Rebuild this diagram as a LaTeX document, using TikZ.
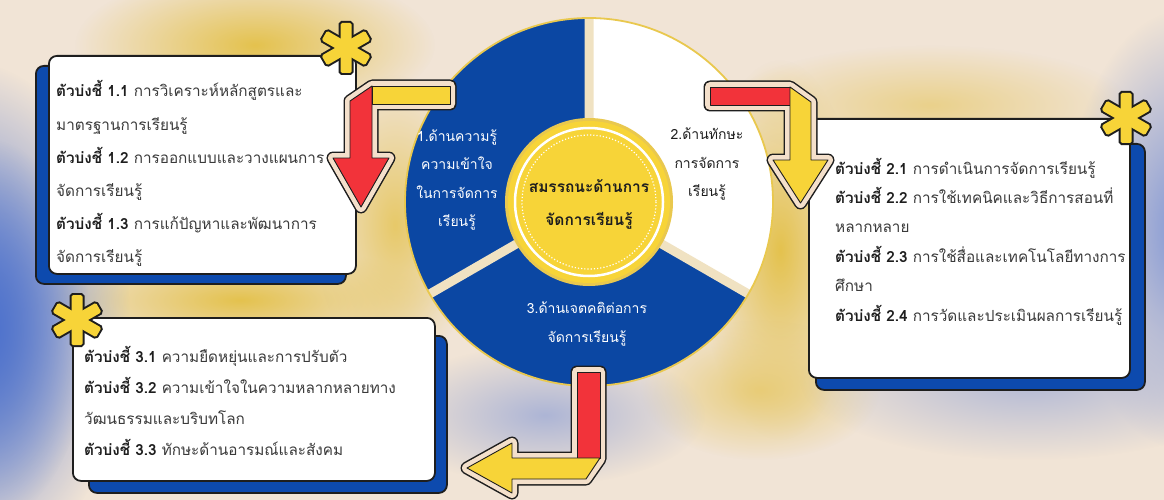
\documentclass[tikz,border=0pt]{standalone}
\usepackage{fontspec}
\setmainfont[Script=Thai]{Loma}
\usetikzlibrary{fadings}
\definecolor{bgc}{HTML}{F1E4D6}
\definecolor{wblue}{HTML}{0B47A3}
\definecolor{sblue}{HTML}{0D4AAE}
\definecolor{cyel}{HTML}{F7D438}
\definecolor{ared}{HTML}{F2333A}
\definecolor{acream}{HTML}{F4E0CB}
\definecolor{adark}{HTML}{1E1E1E}
\definecolor{gapc}{HTML}{F0E2C2}
\definecolor{ringc}{HTML}{E9C84E}
\definecolor{txt}{HTML}{3A3A3A}
\definecolor{gblue}{HTML}{4E72CC}
\definecolor{gblue2}{HTML}{7F95D5}
\definecolor{gyel}{HTML}{E4C24E}
\tikzfading[name=glow, inner color=transparent!0, outer color=transparent!100]
\tikzset{
  glowfill/.style={fill=#1, path fading=glow},
  wbox/.style={draw=adark, line width=1.8, fill=white, rounded corners=8, inner sep=0pt},
  shbox/.style={draw=adark, line width=1.8, fill=sblue, rounded corners=8, inner sep=0pt},
  boxtext/.style={anchor=base west, inner sep=0pt, text width=340pt, align=left, text=txt},
  seglbl/.style={align=center, inner sep=0pt, font=\fontsize{14}{28.5}\selectfont},
  arrowout/.style={draw=adark, line width=13, line join=round},
  arrowin/.style={draw=acream, line width=10, line join=round},
  arrowpart/.style={fill=#1, draw=adark, line width=0.9, line join=round},
  astout/.style={draw=adark, line width=4, rounded corners=1.5},
  astin/.style={fill=cyel, rounded corners=1.5},
}
\newcommand\myast[1]{%
  \begin{scope}[shift={#1}]
    \foreach \a in {0,60,120} {\draw[astout, rotate=\a] (-5.5,-25) -- (5.5,-25) -- (5.5,25) -- (-5.5,25) -- cycle;}
    \foreach \a in {0,60,120} {\fill[astin, rotate=\a] (-5.5,-25) -- (5.5,-25) -- (5.5,25) -- (-5.5,25) -- cycle;}
  \end{scope}}
\begin{document}
\begin{tikzpicture}[x=1pt,y=-1pt]
\useasboundingbox (0,0) rectangle (1164,500);
\fill[bgc] (0,0) rectangle (1164,500);
% glows
\fill[glowfill=gyel] (255,45) ellipse (180 and 75);
\fill[glowfill=gyel] (240,300) ellipse (200 and 55);
\fill[glowfill=gyel!80!bgc] (395,225) ellipse (80 and 150);
\fill[glowfill=gyel] (780,250) ellipse (80 and 190);
\fill[glowfill=gyel!70!bgc] (760,390) ellipse (120 and 70);
\fill[glowfill=gyel!55!bgc] (930,105) ellipse (200 and 60);
\fill[glowfill=gblue] (-40,320) ellipse (170 and 260);
\fill[glowfill=gblue] (-10,330) ellipse (100 and 190);
\fill[glowfill=gblue2] (1185,230) ellipse (120 and 220);
\fill[glowfill=gblue2!60!bgc] (545,415) ellipse (160 and 70);
\fill[glowfill=gblue2!55!bgc] (1030,380) ellipse (230 and 80);

% wheel
\coordinate (W) at (589,202);
\fill[wblue] (W) circle (184);
\fill[white] (W) -- ++(-90:184) arc[start angle=-90, end angle=30, radius=184] -- cycle;
\draw[gapc, line width=9] (W) -- ++(-90:184) (W) -- ++(30:184) (W) -- ++(150:184);
\draw[ringc, line width=1.8] (W) circle (184);
\fill[ringc] (W) circle (84);
\fill[cyel] (W) circle (81);
\draw[white, line width=2.5] (W) circle (74);
\draw[white, line width=1.2, dotted] (W) circle (67);
\node[align=center, inner sep=0pt, font=\fontsize{15.5}{33}\selectfont\bfseries, text=adark] (core) at (589,204) {สมรรถนะด้านการ\\จัดการเรียนรู้};
\node[seglbl, text=white] (s1) at (457,180) {1.ด้านความรู้\\ความเข้าใจ\\ในการจัดการ\\เรียนรู้};
\node[seglbl, text=adark] (s2) at (707,164) {2.ด้านทักษะ\\การจัดการ\\เรียนรู้};
\node[seglbl, text=white] (s3) at (587,324) {3.ด้านเจตคติต่อการ\\จัดการเรียนรู้};

% boxes
\node[shbox, anchor=north west, minimum width=310, minimum height=218] (sh1) at (35,65) {};
\node[wbox, anchor=north west, minimum width=307, minimum height=218] (b1) at (48,55) {};
\node[shbox, anchor=north west, minimum width=329, minimum height=246] (sh2) at (815,143) {};
\node[wbox, anchor=north west, minimum width=321, minimum height=259] (b2) at (808,118) {};
\node[shbox, anchor=north west, minimum width=358, minimum height=157] (sh3) at (88,335) {};
\node[wbox, anchor=north west, minimum width=362, minimum height=163] (b3) at (72,317) {};

\node[boxtext, font=\fontsize{15.3}{33.2}\selectfont] (t1) at (56,97) {%
\textbf{\color{adark}ตัวบ่งชี้ 1.1} การวิเคราะห์หลักสูตรและ\\
มาตรฐานการเรียนรู้\\
\textbf{\color{adark}ตัวบ่งชี้ 1.2} การออกแบบและวางแผนการ\\
จัดการเรียนรู้\\
\textbf{\color{adark}ตัวบ่งชี้ 1.3} การแก้ปัญหาและพัฒนาการ\\
จัดการเรียนรู้};
\node[boxtext, font=\fontsize{15.3}{29.4}\selectfont] (t2) at (835,174) {%
\textbf{\color{adark}ตัวบ่งชี้ 2.1} การดำเนินการจัดการเรียนรู้\\
\textbf{\color{adark}ตัวบ่งชี้ 2.2} การใช้เทคนิคและวิธีการสอนที่\\
หลากหลาย\\
\textbf{\color{adark}ตัวบ่งชี้ 2.3} การใช้สื่อและเทคโนโลยีทางการ\\
ศึกษา\\
\textbf{\color{adark}ตัวบ่งชี้ 2.4} การวัดและประเมินผลการเรียนรู้};
\node[boxtext, font=\fontsize{15.3}{31}\selectfont] (t3) at (84,362) {%
\textbf{\color{adark}ตัวบ่งชี้ 3.1} ความยืดหยุ่นและการปรับตัว\\
\textbf{\color{adark}ตัวบ่งชี้ 3.2} ความเข้าใจในความหลากหลายทาง\\
วัฒนธรรมและบริบทโลก\\
\textbf{\color{adark}ตัวบ่งชี้ 3.3} ทักษะด้านอารมณ์และสังคม};

% arrow 1
\def\arrowA{(450,86) -- (372,86) -- (350,101) -- (350,158) -- (333,158) -- (361,207) -- (389,158) -- (372,158) -- (372,104) -- (450,104) -- cycle}
\draw[arrowout] \arrowA;
\draw[arrowin] \arrowA;
\filldraw[arrowpart=ared] (372,86) -- (350,101) -- (350,158) -- (333,158) -- (361,207) -- (389,158) -- (372,158) -- cycle;
\filldraw[arrowpart=cyel] (372,86) -- (450,86) -- (450,104) -- (372,104) -- cycle;
% arrow 2
\def\arrowB{(710,87) -- (790,87) -- (811,102) -- (811,160) -- (828,160) -- (800.5,203) -- (773,160) -- (790,160) -- (790,105) -- (710,105) -- cycle}
\draw[arrowout] \arrowB;
\draw[arrowin] \arrowB;
\filldraw[arrowpart=ared] (710,87) -- (790,87) -- (790,105) -- (710,105) -- cycle;
\filldraw[arrowpart=cyel] (790,87) -- (811,102) -- (811,160) -- (828,160) -- (800.5,203) -- (773,160) -- (790,160) -- cycle;
% arrow 3
\def\arrowC{(577,372) -- (600,372) -- (600,459) -- (586,479) -- (512,479) -- (512,493) -- (467,468) -- (512,443) -- (512,458) -- (577,458) -- cycle}
\draw[arrowout] \arrowC;
\draw[arrowin] \arrowC;
\filldraw[arrowpart=ared] (577,372) -- (600,372) -- (600,458) -- (577,458) -- cycle;
\filldraw[arrowpart=cyel] (600,458) -- (586,479) -- (512,479) -- (512,493) -- (467,468) -- (512,443) -- (512,458) -- cycle;

% asterisks
\myast{(346,48)}
\myast{(1126,118)}
\myast{(77,320)}
\end{tikzpicture}
\end{document}
